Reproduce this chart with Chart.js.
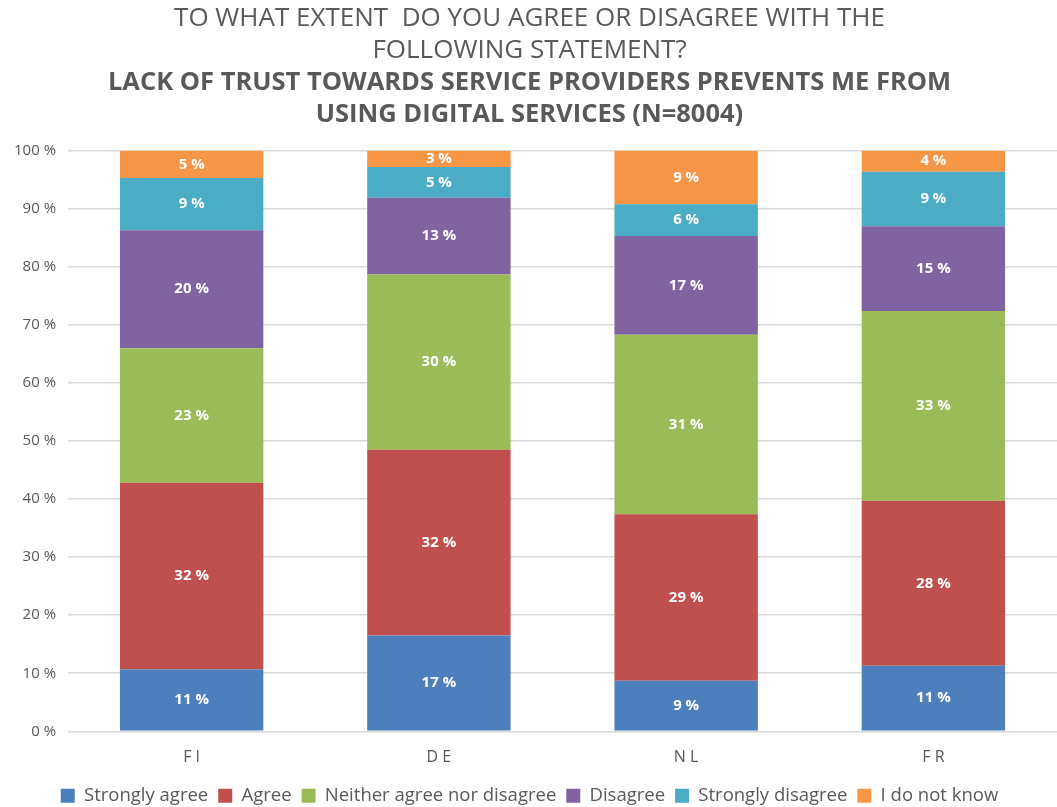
<!DOCTYPE html>
<html>
<head>
<meta charset="utf-8">
<script src="https://cdn.jsdelivr.net/npm/chart.js@4/dist/chart.umd.min.js"></script>
<style>
  html, body { margin: 0; padding: 0; background: #fff; }
  #wrap { width: 1057px; height: 807px; }
</style>
</head>
<body>
<div id="wrap"><canvas id="myChart"></canvas></div>
<script>
'use strict';

// countries
let countries = [ 'F I', 'D E', 'N L', 'F R' ];

// series (percent of respondents)
let stronglyAgree    = [ 10.7, 16.5,  8.7, 11.3 ];
let agree            = [ 32.1, 32.0, 28.7, 28.4 ];
let neither          = [ 23.2, 30.2, 30.9, 32.7 ];
let disagree         = [ 20.3, 13.2, 17.0, 14.6 ];
let stronglyDisagree = [  9.0,  5.3,  5.5,  9.4 ];
let dontKnow         = [  4.7,  2.8,  9.2,  3.6 ];

let seriesNames = [ 'Strongly agree', 'Agree', 'Neither agree nor disagree', 'Disagree', 'Strongly disagree', 'I do not know' ];
let seriesColors = [ '#4e7fbd', '#c0504d', '#9bbb59', '#8064a2', '#4bacc6', '#f79646' ];

let yTicks = [ 0, 10, 20, 30, 40, 50, 60, 70, 80, 90, 100 ];

let titleLines = [ 'TO WHAT EXTENT  DO YOU AGREE OR DISAGREE WITH THE', 'FOLLOWING STATEMENT?' ];
let subtitleLines = [ 'LACK OF TRUST TOWARDS SERVICE PROVIDERS PREVENTS ME FROM', 'USING DIGITAL SERVICES (N=8004)' ];

let allSeries = [ stronglyAgree, agree, neither, disagree, stronglyDisagree, dontKnow ];

let datasets = [];
for( let i = 0; i < allSeries.length; i++ ) {
  datasets.push( {
    label: seriesNames[i],
    data: allSeries[i],
    backgroundColor: seriesColors[i],
    borderWidth: 0,
    barPercentage: 0.58,
    categoryPercentage: 1
  } );
}

// white labels in the middle of each segment
let segmentLabels = {
  id: 'segmentLabels',
  afterDatasetsDraw( chart ) {
    let ctx = chart.ctx;
    ctx.save();
    ctx.fillStyle = '#ffffff';
    ctx.font = 'bold 15px "Open Sans", sans-serif';
    ctx.textAlign = 'center';
    ctx.textBaseline = 'middle';
    chart.data.datasets.forEach( ( ds, di ) => {
      let meta = chart.getDatasetMeta( di );
      meta.data.forEach( ( bar, i ) => {
        let mid = ( bar.y + bar.base ) / 2;
        ctx.fillText( Math.round( ds.data[i] ) + ' %', bar.x, mid );
      } );
    } );
    ctx.restore();
  }
};

let ctx = document.getElementById( 'myChart' ).getContext( '2d' );

let myChart = new Chart( ctx, {
  type: 'bar',
  data: {
    labels: countries,
    datasets: datasets
  },
  plugins: [ segmentLabels ],
  options: {
    responsive: true,
    maintainAspectRatio: false,
    animation: false,
    layout: { padding: { left: 2, right: 0, top: 2, bottom: -8 } },
    plugins: {
      title: {
        display: true,
        text: titleLines,
        color: '#595959',
        font: { family: '"Open Sans", sans-serif', size: 26, weight: 'normal', lineHeight: 1.24 },
        padding: { top: 0, bottom: 0 }
      },
      subtitle: {
        display: true,
        text: subtitleLines,
        color: '#595959',
        font: { family: '"Open Sans", sans-serif', size: 25.5, weight: 'bold', lineHeight: 1.26 },
        padding: { top: 0, bottom: 20 }
      },
      legend: {
        position: 'bottom',
        labels: {
          color: '#595959',
          font: { family: '"Open Sans", sans-serif', size: 18.5 },
          boxWidth: 14,
          boxHeight: 14,
          padding: 10
        }
      },
      tooltip: { enabled: false }
    },
    scales: {
      x: {
        stacked: true,
        grid: { display: false },
        border: { display: false },
        ticks: { color: '#595959', font: { family: '"Open Sans", sans-serif', size: 16 }, padding: 9 }
      },
      y: {
        stacked: true,
        min: 0,
        max: 100,
        afterBuildTicks( axis ) {
          axis.ticks = yTicks.map( v => ( { value: v } ) );
        },
        grid: { color: '#d9d9d9', lineWidth: 1.5, drawTicks: false },
        border: { display: false },
        ticks: {
          color: '#595959',
          font: { family: '"Open Sans", sans-serif', size: 15 },
          padding: 12,
          callback: v => v + ' %'
        }
      }
    }
  }
} );
</script>
</body>
</html>
